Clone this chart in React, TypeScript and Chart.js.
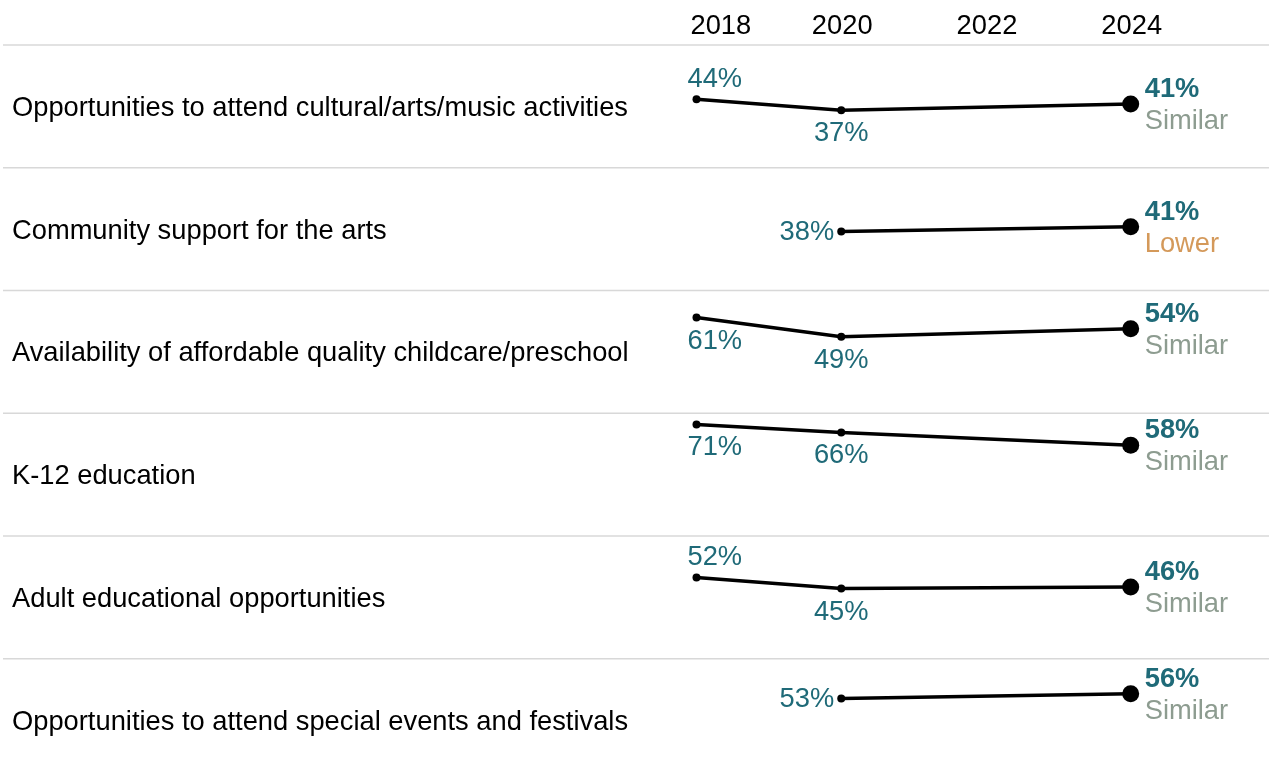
import React, { useEffect, useRef } from "react";
import { Chart, registerables } from "chart.js";

Chart.register(...registerables);

const categories = [
  "Opportunities to attend cultural/arts/music activities",
  "Community support for the arts",
  "Availability of affordable quality childcare/preschool",
  "K-12 education",
  "Adult educational opportunities",
  "Opportunities to attend special events and festivals",
];
const surveyYears = [2018, 2020, 2024];
const tickYears = [2018, 2020, 2022, 2024];
const values2018: (number | null)[] = [44, null, 61, 71, 52, null];
const values2020: (number | null)[] = [37, 38, 49, 66, 45, 53];
const values2024: (number | null)[] = [41, 41, 54, 58, 46, 56];
const comparison = ["Similar", "Lower", "Similar", "Similar", "Similar", "Similar"];
const label2018Pos = ["above", null, "below", "below", "above", null];
const label2020Pos = ["below", "left", "below", "below", "below", "left"];

const FONT = '"Liberation Sans", Arial, Helvetica, sans-serif';
const FS = 27.3;
const TEAL = "#1f6a78";
const COMPARE_COLORS: Record<string, string> = { Similar: "#8d9c90", Lower: "#d4995a", Higher: "#4f8a55" };

const seriesByYear = [values2018, values2020, values2024];

const overlayPlugin = {
  id: "overlay",
  beforeDatasetsDraw(chart: any) {
    const ctx = chart.ctx as CanvasRenderingContext2D;
    const xs = chart.scales.x;
    ctx.save();
    categories.forEach((cat, i) => {
      const ys = chart.scales["y" + i];
      ctx.strokeStyle = "#d8d8d8";
      ctx.lineWidth = 1.5;
      ctx.beginPath();
      ctx.moveTo(3, ys.top);
      ctx.lineTo(chart.width, ys.top);
      ctx.stroke();
      ctx.font = `${FS}px ${FONT}`;
      ctx.fillStyle = "#000";
      ctx.textAlign = "left";
      ctx.textBaseline = "alphabetic";
      ctx.fillText(cat, 12, (ys.top + ys.bottom) / 2 + 9.5);
    });
    ctx.font = `${FS}px ${FONT}`;
    ctx.fillStyle = "#000";
    ctx.textBaseline = "alphabetic";
    tickYears.forEach((yr, j) => {
      const px = xs.getPixelForValue(yr);
      if (j === 0) {
        ctx.textAlign = "left";
        ctx.fillText(String(yr), px - 6, 34);
      } else {
        ctx.textAlign = "center";
        ctx.fillText(String(yr), px + 1, 34);
      }
    });
    ctx.restore();
  },
  afterDatasetsDraw(chart: any) {
    const ctx = chart.ctx as CanvasRenderingContext2D;
    const xs = chart.scales.x;
    ctx.save();
    ctx.textBaseline = "alphabetic";
    categories.forEach((_, i) => {
      const ys = chart.scales["y" + i];
      [0, 1].forEach((j) => {
        const v = seriesByYear[j][i];
        if (v == null) return;
        const pos = j === 0 ? label2018Pos[i] : label2020Pos[i];
        const px = xs.getPixelForValue(surveyYears[j]);
        const py = ys.getPixelForValue(v);
        ctx.font = `${FS}px ${FONT}`;
        ctx.fillStyle = TEAL;
        const txt = `${v}%`;
        let tx = px;
        let align: CanvasTextAlign = "center";
        let ty = py;
        if (pos === "above") ty = py - 12.5;
        else if (pos === "below") ty = py + 31;
        else { ty = py + 8; align = "right"; tx = px - 7; }
        if (j === 0 && pos !== "left") { align = "left"; tx = px - 9; }
        ctx.textAlign = align;
        ctx.fillText(txt, tx, ty);
      });
      const v = values2024[i];
      if (v != null) {
        const px = xs.getPixelForValue(2024);
        const py = ys.getPixelForValue(v);
        ctx.textAlign = "left";
        ctx.font = `bold ${FS}px ${FONT}`;
        ctx.fillStyle = TEAL;
        ctx.fillText(`${v}%`, px + 14, py - 7);
        ctx.font = `${FS}px ${FONT}`;
        ctx.fillStyle = COMPARE_COLORS[comparison[i]] || "#8d9c90";
        ctx.fillText(comparison[i], px + 14, py + 25);
      }
    });
    ctx.restore();
  },
};

export default function App() {
  const canvasRef = useRef<HTMLCanvasElement | null>(null);

  useEffect(() => {
    document.body.style.margin = "0";
    const canvas = canvasRef.current;
    if (!canvas) return;

    const datasets = categories.map((cat, i) => {
      const data = surveyYears
        .map((yr, j) => ({ x: yr, y: seriesByYear[j][i] }))
        .filter((p) => p.y != null) as { x: number; y: number }[];
      return {
        label: cat,
        data,
        yAxisID: "y" + i,
        borderColor: "#000",
        backgroundColor: "#000",
        borderWidth: 3.5,
        pointRadius: data.map((p) => (p.x === 2024 ? 8.5 : 4)),
        pointHoverRadius: data.map((p) => (p.x === 2024 ? 8.5 : 4)),
        pointBorderWidth: 0,
        pointBackgroundColor: "#000",
        tension: 0,
        clip: false as any,
      };
    });

    const scales: any = {
      x: { type: "linear", min: 2018, max: 2024, display: false },
    };
    categories.forEach((_, i) => {
      scales["y" + i] = {
        type: "linear",
        min: 1,
        max: 78,
        display: false,
        position: "right",
        stack: "rows",
        stackWeight: 1,
      };
    });

    const chart = new Chart(canvas, {
      type: "line",
      data: { datasets },
      options: {
        responsive: false,
        animation: false,
        devicePixelRatio: 1,
        events: [],
        layout: { padding: { left: 696.5, right: 138.3, top: 45, bottom: 0 } },
        plugins: { legend: { display: false }, tooltip: { enabled: false } },
        scales,
      },
      plugins: [overlayPlugin],
    });
    return () => chart.destroy();
  }, []);

  return (
    <div style={{ width: 1269, height: 776, overflow: "hidden", background: "#fff" }}>
      <canvas ref={canvasRef} width={1269} height={790} style={{ display: "block" }} />
    </div>
  );
}
